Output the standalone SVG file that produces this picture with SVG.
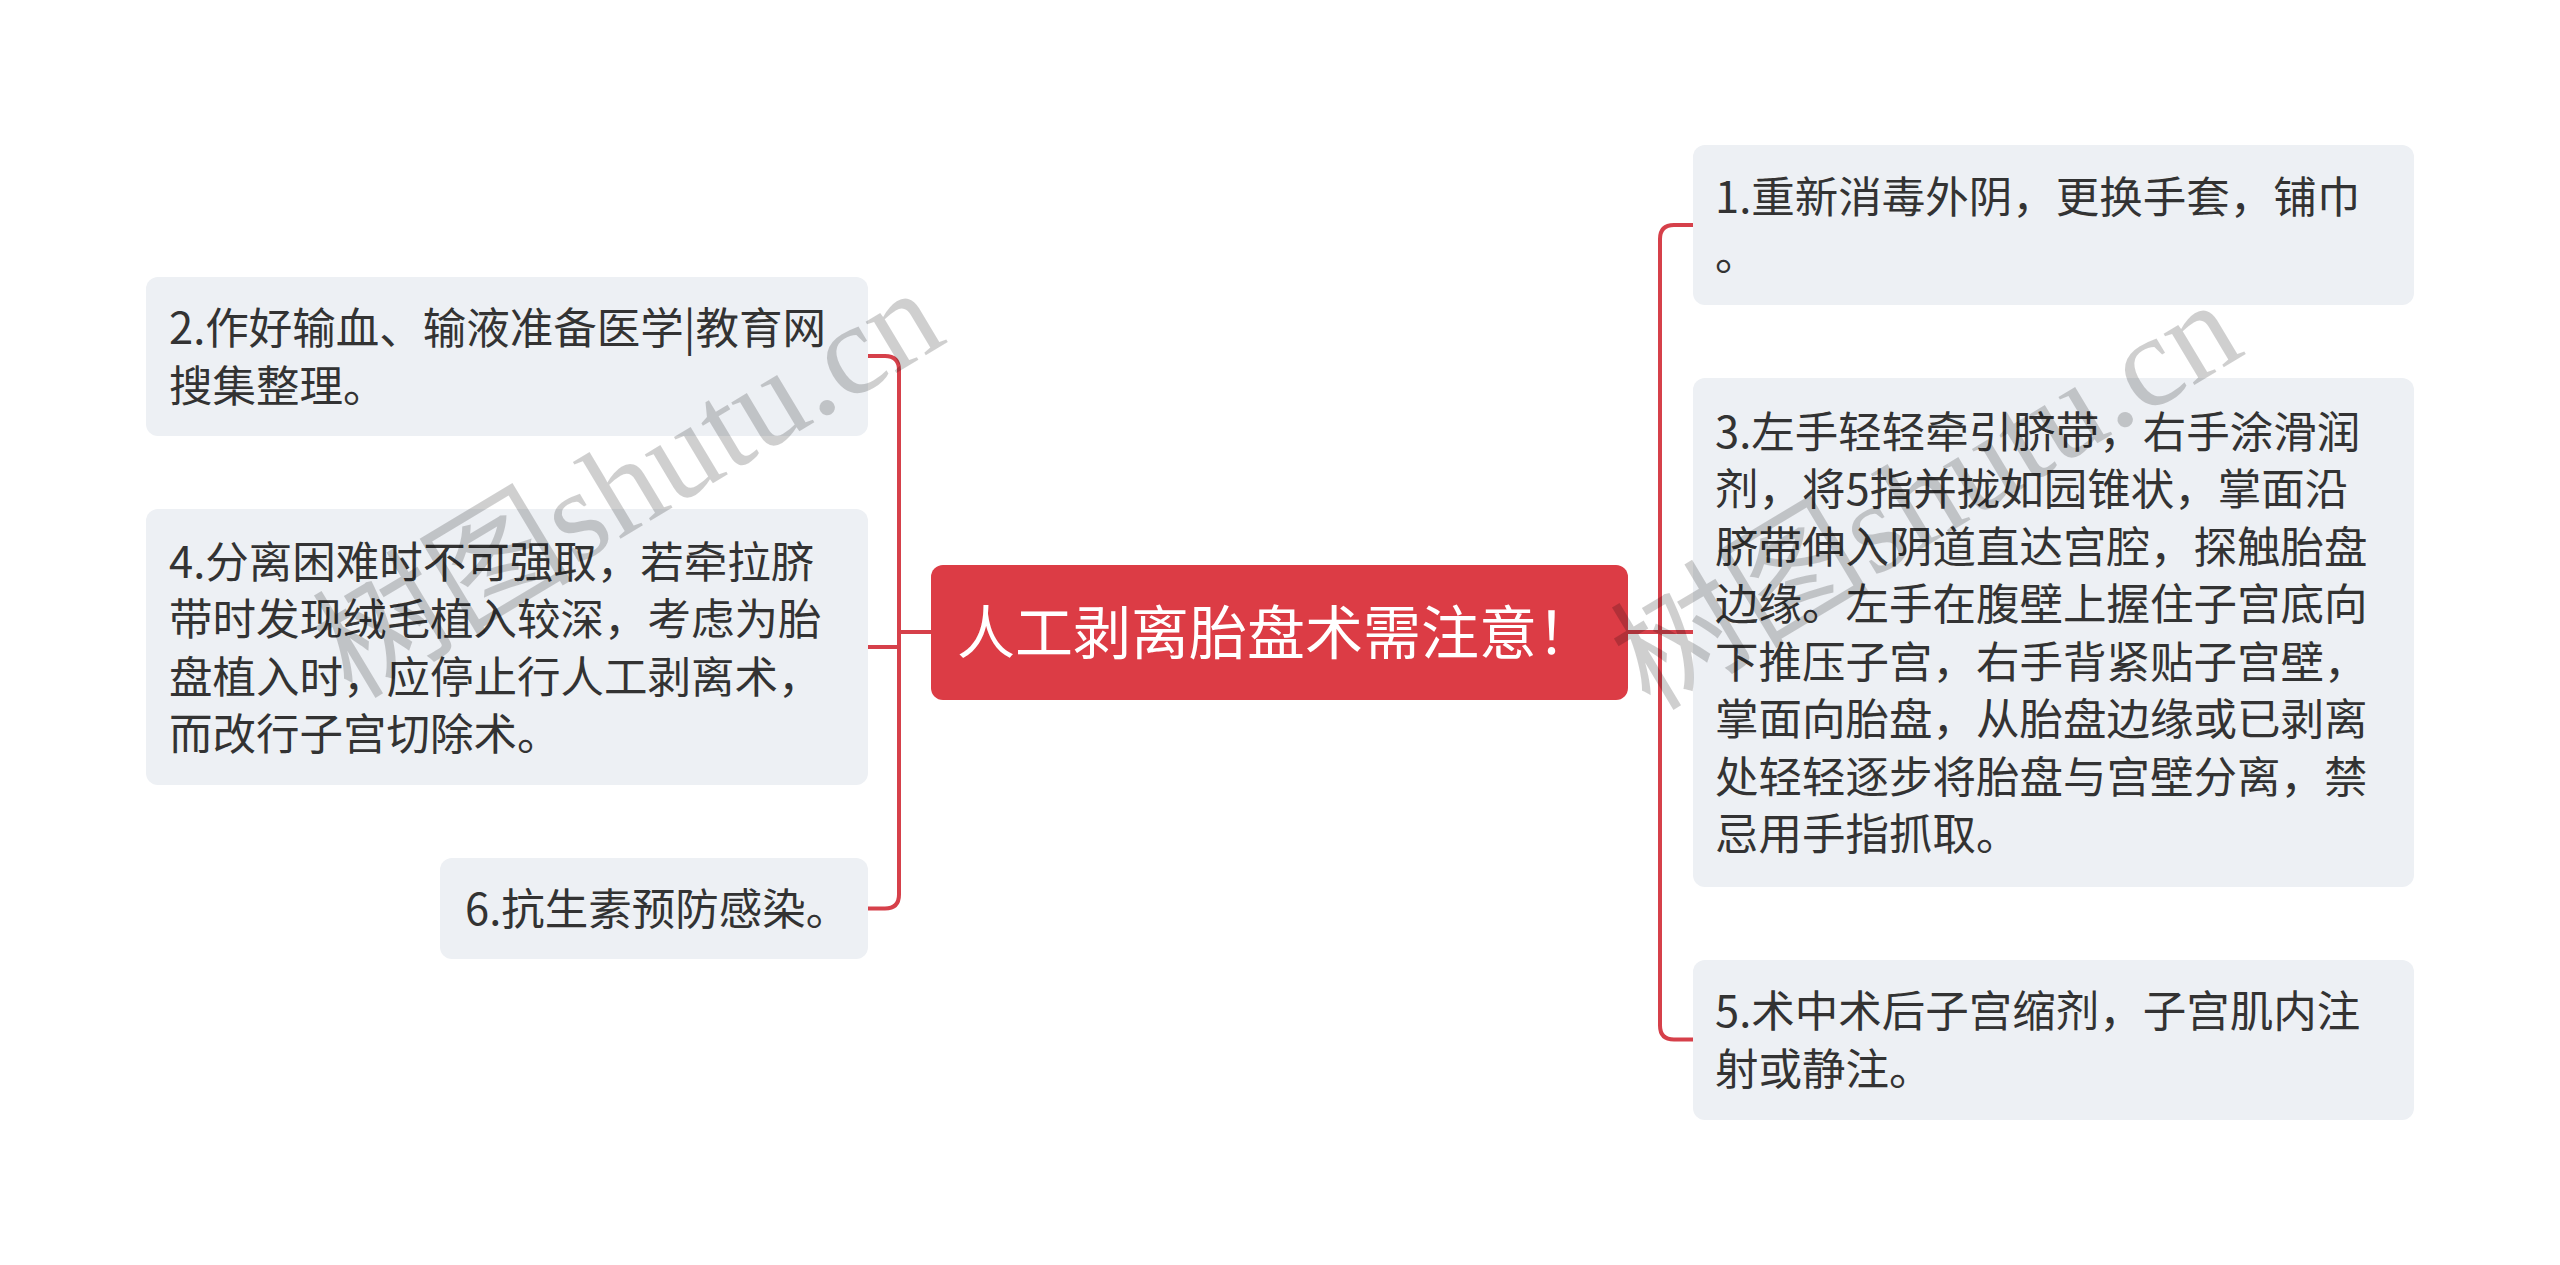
<svg xmlns="http://www.w3.org/2000/svg" width="2560" height="1265" viewBox="0 0 2560 1265">
<style>
.box{fill:#edf0f4}
.root{fill:#dc3c45}
.t{font-family:"Noto Sans CJK SC","Liberation Sans",sans-serif;font-size:43.5px;fill:#333}
.rt{font-family:"Noto Sans CJK SC","Liberation Sans",sans-serif;font-size:58px;fill:#fff}
.con{fill:none;stroke:#d6404a;stroke-width:4;stroke-linejoin:round}
.wm{font-family:"Liberation Serif","Noto Sans CJK SC",serif;font-size:130px;fill:#000;fill-opacity:0.19}
</style>
<rect width="2560" height="1265" fill="#fff"/>
<g id="connectors">
<path class="con" d="M931 632 H899 V370 Q899 356 885 356 H868"/>
<path class="con" d="M899 632 V647 H868"/>
<path class="con" d="M899 632 V894.5 Q899 908.5 885 908.5 H868"/>
<path class="con" d="M1628 632 H1660 V239 Q1660 225 1674 225 H1693"/>
<path class="con" d="M1628 632 H1693"/>
<path class="con" d="M1660 632 V1025.5 Q1660 1039.5 1674 1039.5 H1693"/>
</g>
<g id="root">
<rect class="root" x="931" y="565" width="697" height="135" rx="12"/>
<text class="rt" x="957" y="654">人工剥离胎盘术需注意！</text>
</g>
<g id="n2">
<rect class="box" x="146" y="277" width="722" height="159" rx="12"/>
<text class="t" x="169" y="344">2.作好输血、输液准备医学|教育网</text>
<text class="t" x="169" y="402">搜集整理。</text>
</g>
<g id="n4">
<rect class="box" x="146" y="509" width="722" height="276" rx="12"/>
<text class="t" x="169" y="578">4.分离困难时不可强取，若牵拉脐</text>
<text class="t" x="169" y="635">带时发现绒毛植入较深，考虑为胎</text>
<text class="t" x="169" y="693">盘植入时，应停止行人工剥离术，</text>
<text class="t" x="169" y="750">而改行子宫切除术。</text>
</g>
<g id="n6">
<rect class="box" x="440" y="858" width="428" height="101" rx="12"/>
<text class="t" x="465" y="925">6.抗生素预防感染。</text>
</g>
<g id="n1">
<rect class="box" x="1693" y="145" width="721" height="160" rx="12"/>
<text class="t" x="1715" y="213">1.重新消毒外阴，更换手套，铺巾</text>
<text class="t" x="1715" y="270">。</text>
</g>
<g id="n3">
<rect class="box" x="1693" y="378" width="721" height="509" rx="12"/>
<text class="t" x="1715" y="448">3.左手轻轻牵引脐带，右手涂滑润</text>
<text class="t" x="1715" y="505">剂，将5指并拢如园锥状，掌面沿</text>
<text class="t" x="1715" y="563">脐带伸入阴道直达宫腔，探触胎盘</text>
<text class="t" x="1715" y="620">边缘。左手在腹壁上握住子宫底向</text>
<text class="t" x="1715" y="678">下推压子宫，右手背紧贴子宫壁，</text>
<text class="t" x="1715" y="735">掌面向胎盘，从胎盘边缘或已剥离</text>
<text class="t" x="1715" y="793">处轻轻逐步将胎盘与宫壁分离，禁</text>
<text class="t" x="1715" y="850">忌用手指抓取。</text>
</g>
<g id="n5">
<rect class="box" x="1693" y="960" width="721" height="160" rx="12"/>
<text class="t" x="1715" y="1027">5.术中术后子宫缩剂，子宫肌内注</text>
<text class="t" x="1715" y="1085">射或静注。</text>
</g>
<g id="watermarks">
<text class="wm" transform="translate(352 700) rotate(-31)">树图shutu.cn</text>
<text class="wm" transform="translate(1650 712) rotate(-31)">树图shutu.cn</text>
</g>
</svg>
